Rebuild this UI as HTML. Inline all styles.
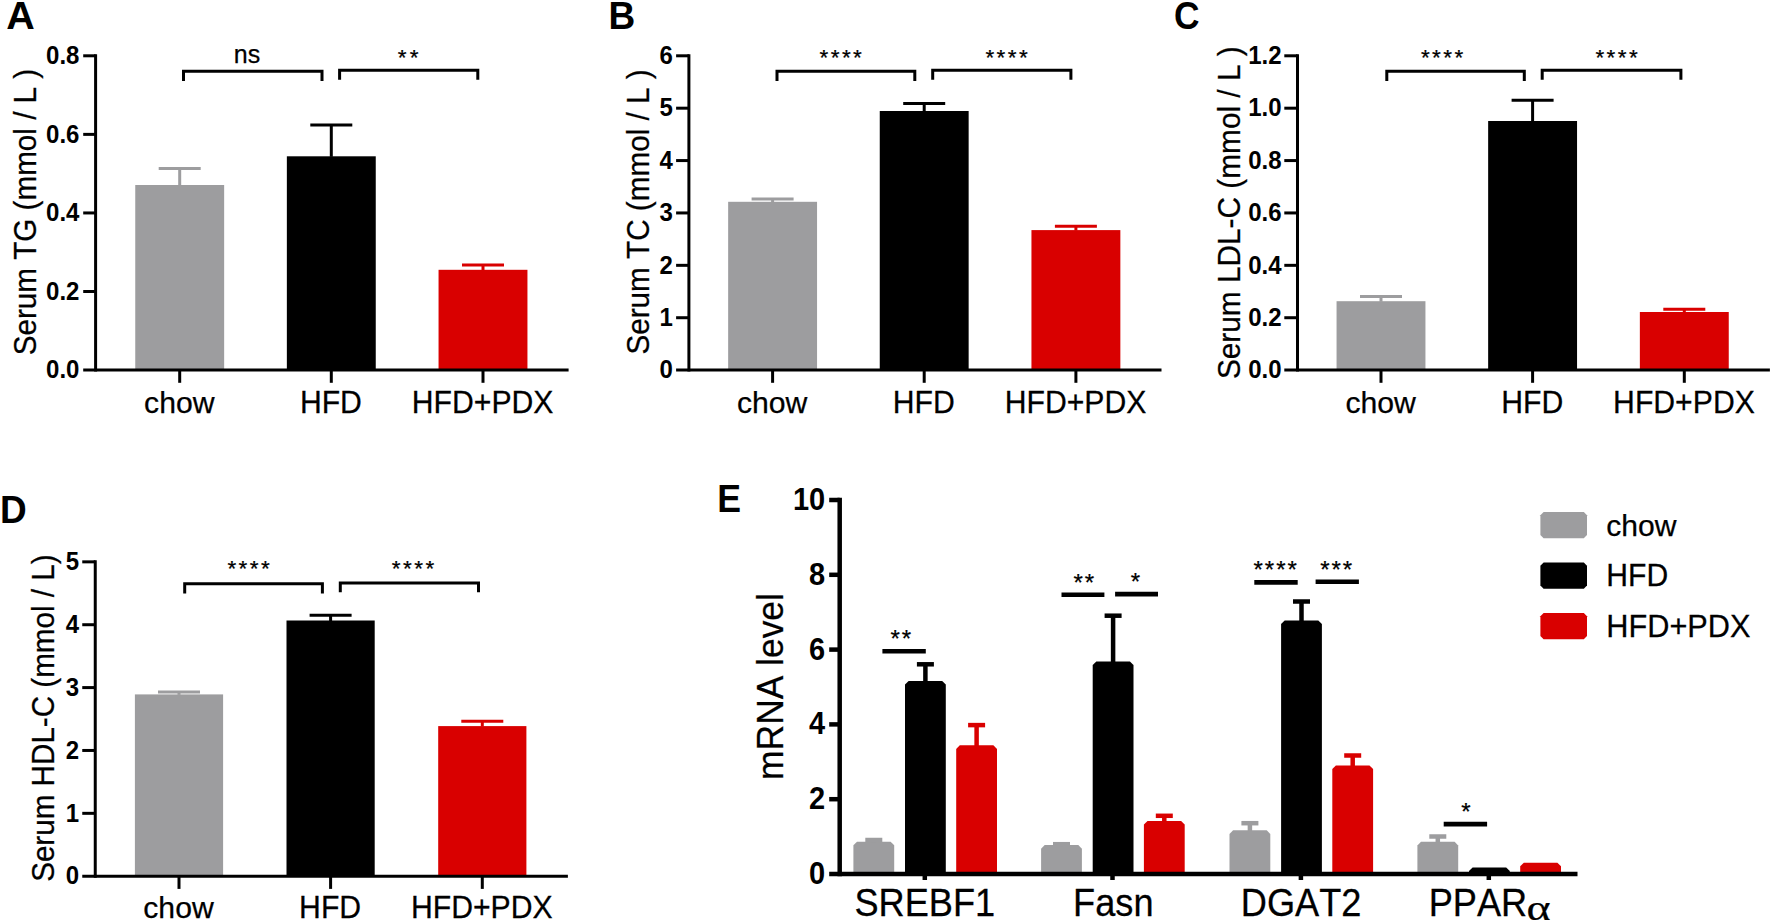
<!DOCTYPE html>
<html lang="en">
<head>
<meta charset="utf-8">
<title>Serum lipids and hepatic mRNA levels</title>
<style>
html,body{margin:0;padding:0;background:#fff;}
body{width:1772px;height:923px;overflow:hidden;}
svg{display:block;}
svg text{font-family:"Liberation Sans", Arial, Helvetica, sans-serif;fill:#000;font-kerning:none;font-variant-ligatures:none;stroke:#000;stroke-width:0.25px;}
svg text[font-weight=bold]{stroke-width:0;}
</style>
</head>
<body>
<svg width="1772" height="923" viewBox="0 0 1772 923">
<rect width="1772" height="923" fill="#ffffff"/>
<g><!-- panel A -->
<text transform="translate(6.3 28.6) scale(1.068 1.045)" font-size="37" font-weight="bold">A</text>
<rect x="135.25" y="185" width="88.9" height="185.1" fill="#9d9d9f"/>
<line x1="179.7" y1="168.5" x2="179.7" y2="185.5" stroke="#9d9d9f" stroke-width="3" stroke-linecap="butt"/>
<line x1="158.7" y1="168.5" x2="200.7" y2="168.5" stroke="#9d9d9f" stroke-width="3" stroke-linecap="butt"/>
<rect x="286.85" y="156.3" width="88.9" height="213.8" fill="#000000"/>
<line x1="331.3" y1="125.1" x2="331.3" y2="156.8" stroke="#000000" stroke-width="3" stroke-linecap="butt"/>
<line x1="310.3" y1="125.1" x2="352.3" y2="125.1" stroke="#000000" stroke-width="3" stroke-linecap="butt"/>
<rect x="438.55" y="269.8" width="88.9" height="100.3" fill="#d90000"/>
<line x1="483" y1="265" x2="483" y2="270.3" stroke="#d90000" stroke-width="3" stroke-linecap="butt"/>
<line x1="462" y1="265" x2="504" y2="265" stroke="#d90000" stroke-width="3" stroke-linecap="butt"/>
<line x1="95.6" y1="54.3" x2="95.6" y2="371.6" stroke="#000000" stroke-width="3" stroke-linecap="butt"/>
<line x1="83.2" y1="370.1" x2="568.6" y2="370.1" stroke="#000000" stroke-width="3" stroke-linecap="butt"/>
<text transform="translate(79.4 378.3) scale(1 1.04)" font-size="24" text-anchor="end" font-weight="bold">0.0</text>
<line x1="83.2" y1="291.525" x2="95.6" y2="291.525" stroke="#000000" stroke-width="3" stroke-linecap="butt"/>
<text transform="translate(79.4 299.725) scale(1 1.04)" font-size="24" text-anchor="end" font-weight="bold">0.2</text>
<line x1="83.2" y1="212.95" x2="95.6" y2="212.95" stroke="#000000" stroke-width="3" stroke-linecap="butt"/>
<text transform="translate(79.4 221.15) scale(1 1.04)" font-size="24" text-anchor="end" font-weight="bold">0.4</text>
<line x1="83.2" y1="134.375" x2="95.6" y2="134.375" stroke="#000000" stroke-width="3" stroke-linecap="butt"/>
<text transform="translate(79.4 142.575) scale(1 1.04)" font-size="24" text-anchor="end" font-weight="bold">0.6</text>
<line x1="83.2" y1="55.8" x2="95.6" y2="55.8" stroke="#000000" stroke-width="3" stroke-linecap="butt"/>
<text transform="translate(79.4 64) scale(1 1.04)" font-size="24" text-anchor="end" font-weight="bold">0.8</text>
<line x1="179.7" y1="370.1" x2="179.7" y2="382.8" stroke="#000000" stroke-width="3" stroke-linecap="butt"/>
<text x="179.3" y="412.7" font-size="30.2" text-anchor="middle">chow</text>
<line x1="331.3" y1="370.1" x2="331.3" y2="382.8" stroke="#000000" stroke-width="3" stroke-linecap="butt"/>
<text transform="translate(330.9 412.7) scale(1 1.025)" font-size="30.2" text-anchor="middle">HFD</text>
<line x1="483" y1="370.1" x2="483" y2="382.8" stroke="#000000" stroke-width="3" stroke-linecap="butt"/>
<text transform="translate(482.6 412.7) scale(1 1.025)" font-size="30.2" text-anchor="middle">HFD+PDX</text>
<text transform="translate(36.2 212.05) rotate(-90) scale(1 1.07)" font-size="29.65" text-anchor="middle">Serum TG (mmol / L )</text>
<path d="M183.5 80.95V71.15H322V80.95" fill="none" stroke="#000" stroke-width="3.0"/>
<path d="M339.6 79.75V70.35H477.8V79.75" fill="none" stroke="#000" stroke-width="3.0"/>
<text x="233.8" y="62.7" font-size="25">ns</text>
<text x="397.8" y="64.65" font-size="22.5" letter-spacing="3.2" stroke="#000" stroke-width="0.3">**</text>
</g>
<g><!-- panel B -->
<text transform="translate(608.6 28.6) scale(1 1.045)" font-size="37" font-weight="bold">B</text>
<rect x="728.15" y="201.8" width="88.9" height="168.3" fill="#9d9d9f"/>
<line x1="772.6" y1="199" x2="772.6" y2="202.3" stroke="#9d9d9f" stroke-width="3" stroke-linecap="butt"/>
<line x1="751.6" y1="199" x2="793.6" y2="199" stroke="#9d9d9f" stroke-width="3" stroke-linecap="butt"/>
<rect x="879.75" y="111" width="88.9" height="259.1" fill="#000000"/>
<line x1="924.2" y1="103.4" x2="924.2" y2="111.5" stroke="#000000" stroke-width="3" stroke-linecap="butt"/>
<line x1="903.2" y1="103.4" x2="945.2" y2="103.4" stroke="#000000" stroke-width="3" stroke-linecap="butt"/>
<rect x="1031.45" y="230.1" width="88.9" height="140" fill="#d90000"/>
<line x1="1075.9" y1="226.2" x2="1075.9" y2="230.6" stroke="#d90000" stroke-width="3" stroke-linecap="butt"/>
<line x1="1054.9" y1="226.2" x2="1096.9" y2="226.2" stroke="#d90000" stroke-width="3" stroke-linecap="butt"/>
<line x1="688.9" y1="54.3" x2="688.9" y2="371.6" stroke="#000000" stroke-width="3" stroke-linecap="butt"/>
<line x1="676.1" y1="370.1" x2="1161.5" y2="370.1" stroke="#000000" stroke-width="3" stroke-linecap="butt"/>
<text transform="translate(672.9 378.3) scale(1 1.04)" font-size="24" text-anchor="end" font-weight="bold">0</text>
<line x1="676.1" y1="317.717" x2="688.9" y2="317.717" stroke="#000000" stroke-width="3" stroke-linecap="butt"/>
<text transform="translate(672.9 325.917) scale(1 1.04)" font-size="24" text-anchor="end" font-weight="bold">1</text>
<line x1="676.1" y1="265.333" x2="688.9" y2="265.333" stroke="#000000" stroke-width="3" stroke-linecap="butt"/>
<text transform="translate(672.9 273.533) scale(1 1.04)" font-size="24" text-anchor="end" font-weight="bold">2</text>
<line x1="676.1" y1="212.95" x2="688.9" y2="212.95" stroke="#000000" stroke-width="3" stroke-linecap="butt"/>
<text transform="translate(672.9 221.15) scale(1 1.04)" font-size="24" text-anchor="end" font-weight="bold">3</text>
<line x1="676.1" y1="160.567" x2="688.9" y2="160.567" stroke="#000000" stroke-width="3" stroke-linecap="butt"/>
<text transform="translate(672.9 168.767) scale(1 1.04)" font-size="24" text-anchor="end" font-weight="bold">4</text>
<line x1="676.1" y1="108.183" x2="688.9" y2="108.183" stroke="#000000" stroke-width="3" stroke-linecap="butt"/>
<text transform="translate(672.9 116.383) scale(1 1.04)" font-size="24" text-anchor="end" font-weight="bold">5</text>
<line x1="676.1" y1="55.8" x2="688.9" y2="55.8" stroke="#000000" stroke-width="3" stroke-linecap="butt"/>
<text transform="translate(672.9 64) scale(1 1.04)" font-size="24" text-anchor="end" font-weight="bold">6</text>
<line x1="772.6" y1="370.1" x2="772.6" y2="382.8" stroke="#000000" stroke-width="3" stroke-linecap="butt"/>
<text x="772.2" y="412.7" font-size="30.2" text-anchor="middle">chow</text>
<line x1="924.2" y1="370.1" x2="924.2" y2="382.8" stroke="#000000" stroke-width="3" stroke-linecap="butt"/>
<text transform="translate(923.8 412.7) scale(1 1.025)" font-size="30.2" text-anchor="middle">HFD</text>
<line x1="1075.9" y1="370.1" x2="1075.9" y2="382.8" stroke="#000000" stroke-width="3" stroke-linecap="butt"/>
<text transform="translate(1075.5 412.7) scale(1 1.025)" font-size="30.2" text-anchor="middle">HFD+PDX</text>
<text transform="translate(648.5 212) rotate(-90) scale(1 1.07)" font-size="29.68" text-anchor="middle">Serum TC (mmol / L )</text>
<path d="M777 80.95V71.15H914.8V80.95" fill="none" stroke="#000" stroke-width="3.0"/>
<path d="M932.7 79.75V70.35H1070.9V79.75" fill="none" stroke="#000" stroke-width="3.0"/>
<text x="819.5" y="64.65" font-size="22.5" letter-spacing="2.45" stroke="#000" stroke-width="0.3">****</text>
<text x="985.4" y="64.65" font-size="22.5" letter-spacing="2.45" stroke="#000" stroke-width="0.3">****</text>
</g>
<g><!-- panel C -->
<text transform="translate(1174.1 29) scale(0.955 1.045)" font-size="37" font-weight="bold">C</text>
<rect x="1336.55" y="301.2" width="88.9" height="68.9" fill="#9d9d9f"/>
<line x1="1381" y1="296.5" x2="1381" y2="301.7" stroke="#9d9d9f" stroke-width="3" stroke-linecap="butt"/>
<line x1="1360" y1="296.5" x2="1402" y2="296.5" stroke="#9d9d9f" stroke-width="3" stroke-linecap="butt"/>
<rect x="1488.15" y="121" width="88.9" height="249.1" fill="#000000"/>
<line x1="1532.6" y1="100.3" x2="1532.6" y2="121.5" stroke="#000000" stroke-width="3" stroke-linecap="butt"/>
<line x1="1511.6" y1="100.3" x2="1553.6" y2="100.3" stroke="#000000" stroke-width="3" stroke-linecap="butt"/>
<rect x="1639.85" y="312" width="88.9" height="58.1" fill="#d90000"/>
<line x1="1684.3" y1="309.2" x2="1684.3" y2="312.5" stroke="#d90000" stroke-width="3" stroke-linecap="butt"/>
<line x1="1663.3" y1="309.2" x2="1705.3" y2="309.2" stroke="#d90000" stroke-width="3" stroke-linecap="butt"/>
<line x1="1297.5" y1="54.3" x2="1297.5" y2="371.6" stroke="#000000" stroke-width="3" stroke-linecap="butt"/>
<line x1="1284.3" y1="370.1" x2="1769.9" y2="370.1" stroke="#000000" stroke-width="3" stroke-linecap="butt"/>
<text transform="translate(1281.55 378.3) scale(1 1.04)" font-size="24" text-anchor="end" font-weight="bold">0.0</text>
<line x1="1284.3" y1="317.717" x2="1297.5" y2="317.717" stroke="#000000" stroke-width="3" stroke-linecap="butt"/>
<text transform="translate(1281.55 325.917) scale(1 1.04)" font-size="24" text-anchor="end" font-weight="bold">0.2</text>
<line x1="1284.3" y1="265.333" x2="1297.5" y2="265.333" stroke="#000000" stroke-width="3" stroke-linecap="butt"/>
<text transform="translate(1281.55 273.533) scale(1 1.04)" font-size="24" text-anchor="end" font-weight="bold">0.4</text>
<line x1="1284.3" y1="212.95" x2="1297.5" y2="212.95" stroke="#000000" stroke-width="3" stroke-linecap="butt"/>
<text transform="translate(1281.55 221.15) scale(1 1.04)" font-size="24" text-anchor="end" font-weight="bold">0.6</text>
<line x1="1284.3" y1="160.567" x2="1297.5" y2="160.567" stroke="#000000" stroke-width="3" stroke-linecap="butt"/>
<text transform="translate(1281.55 168.767) scale(1 1.04)" font-size="24" text-anchor="end" font-weight="bold">0.8</text>
<line x1="1284.3" y1="108.183" x2="1297.5" y2="108.183" stroke="#000000" stroke-width="3" stroke-linecap="butt"/>
<text transform="translate(1281.55 116.383) scale(1 1.04)" font-size="24" text-anchor="end" font-weight="bold">1.0</text>
<line x1="1284.3" y1="55.8" x2="1297.5" y2="55.8" stroke="#000000" stroke-width="3" stroke-linecap="butt"/>
<text transform="translate(1281.55 64) scale(1 1.04)" font-size="24" text-anchor="end" font-weight="bold">1.2</text>
<line x1="1381" y1="370.1" x2="1381" y2="382.8" stroke="#000000" stroke-width="3" stroke-linecap="butt"/>
<text x="1380.65" y="412.7" font-size="30.2" text-anchor="middle">chow</text>
<line x1="1532.6" y1="370.1" x2="1532.6" y2="382.8" stroke="#000000" stroke-width="3" stroke-linecap="butt"/>
<text transform="translate(1532.25 412.7) scale(1 1.025)" font-size="30.2" text-anchor="middle">HFD</text>
<line x1="1684.3" y1="370.1" x2="1684.3" y2="382.8" stroke="#000000" stroke-width="3" stroke-linecap="butt"/>
<text transform="translate(1683.95 412.7) scale(1 1.025)" font-size="30.2" text-anchor="middle">HFD+PDX</text>
<text transform="translate(1240 212.7) rotate(-90) scale(1 1.07)" font-size="29.8" text-anchor="middle">Serum LDL-C (mmol / L )</text>
<path d="M1386.8 80.95V71.15H1524.3V80.95" fill="none" stroke="#000" stroke-width="3.0"/>
<path d="M1542.2 79.75V70.35H1680.9V79.75" fill="none" stroke="#000" stroke-width="3.0"/>
<text x="1420.9" y="64.65" font-size="22.5" letter-spacing="2.45" stroke="#000" stroke-width="0.3">****</text>
<text x="1595.4" y="64.65" font-size="22.5" letter-spacing="2.45" stroke="#000" stroke-width="0.3">****</text>
</g>
<g><!-- panel D -->
<text transform="translate(-0.1 523.4) scale(1 1.045)" font-size="37" font-weight="bold">D</text>
<rect x="134.9" y="694.4" width="88.2" height="181.8" fill="#9d9d9f"/>
<line x1="179" y1="692" x2="179" y2="694.9" stroke="#9d9d9f" stroke-width="3" stroke-linecap="butt"/>
<line x1="158" y1="692" x2="200" y2="692" stroke="#9d9d9f" stroke-width="3" stroke-linecap="butt"/>
<rect x="286.5" y="620.5" width="88.2" height="255.7" fill="#000000"/>
<line x1="330.6" y1="615.3" x2="330.6" y2="621" stroke="#000000" stroke-width="3" stroke-linecap="butt"/>
<line x1="309.6" y1="615.3" x2="351.6" y2="615.3" stroke="#000000" stroke-width="3" stroke-linecap="butt"/>
<rect x="438.2" y="726.1" width="88.2" height="150.1" fill="#d90000"/>
<line x1="482.3" y1="721.3" x2="482.3" y2="726.6" stroke="#d90000" stroke-width="3" stroke-linecap="butt"/>
<line x1="461.3" y1="721.3" x2="503.3" y2="721.3" stroke="#d90000" stroke-width="3" stroke-linecap="butt"/>
<line x1="95.25" y1="560.35" x2="95.25" y2="877.7" stroke="#000000" stroke-width="3" stroke-linecap="butt"/>
<line x1="82.25" y1="876.2" x2="567.9" y2="876.2" stroke="#000000" stroke-width="3" stroke-linecap="butt"/>
<text transform="translate(79 884.4) scale(1 1.04)" font-size="24" text-anchor="end" font-weight="bold">0</text>
<line x1="82.25" y1="813.33" x2="95.25" y2="813.33" stroke="#000000" stroke-width="3" stroke-linecap="butt"/>
<text transform="translate(79 821.53) scale(1 1.04)" font-size="24" text-anchor="end" font-weight="bold">1</text>
<line x1="82.25" y1="750.46" x2="95.25" y2="750.46" stroke="#000000" stroke-width="3" stroke-linecap="butt"/>
<text transform="translate(79 758.66) scale(1 1.04)" font-size="24" text-anchor="end" font-weight="bold">2</text>
<line x1="82.25" y1="687.59" x2="95.25" y2="687.59" stroke="#000000" stroke-width="3" stroke-linecap="butt"/>
<text transform="translate(79 695.79) scale(1 1.04)" font-size="24" text-anchor="end" font-weight="bold">3</text>
<line x1="82.25" y1="624.72" x2="95.25" y2="624.72" stroke="#000000" stroke-width="3" stroke-linecap="butt"/>
<text transform="translate(79 632.92) scale(1 1.04)" font-size="24" text-anchor="end" font-weight="bold">4</text>
<line x1="82.25" y1="561.85" x2="95.25" y2="561.85" stroke="#000000" stroke-width="3" stroke-linecap="butt"/>
<text transform="translate(79 570.05) scale(1 1.04)" font-size="24" text-anchor="end" font-weight="bold">5</text>
<line x1="179" y1="876.2" x2="179" y2="888.9" stroke="#000000" stroke-width="3" stroke-linecap="butt"/>
<text x="178.5" y="918.3" font-size="30.2" text-anchor="middle">chow</text>
<line x1="330.6" y1="876.2" x2="330.6" y2="888.9" stroke="#000000" stroke-width="3" stroke-linecap="butt"/>
<text transform="translate(330.1 918.3) scale(1 1.025)" font-size="30.2" text-anchor="middle">HFD</text>
<line x1="482.3" y1="876.2" x2="482.3" y2="888.9" stroke="#000000" stroke-width="3" stroke-linecap="butt"/>
<text transform="translate(481.8 918.3) scale(1 1.025)" font-size="30.2" text-anchor="middle">HFD+PDX</text>
<text transform="translate(54 718.125) rotate(-90) scale(1 1.07)" font-size="29.63" text-anchor="middle">Serum HDL-C (mmol / L)</text>
<path d="M184.7 593.5V583.7H322.4V593.5" fill="none" stroke="#000" stroke-width="3.0"/>
<path d="M340.3 592.3V582.9H478.5V592.3" fill="none" stroke="#000" stroke-width="3.0"/>
<text x="227.4" y="576" font-size="22.5" letter-spacing="2.45" stroke="#000" stroke-width="0.3">****</text>
<text x="391.8" y="576" font-size="22.5" letter-spacing="2.45" stroke="#000" stroke-width="0.3">****</text>
</g>
<g><!-- panel E -->
<text transform="translate(717.3 511.8) scale(0.965 1.045)" font-size="37" font-weight="bold">E</text>
<path d="M853.4 874V845.3L857 841.7H890.6L894.2 845.3V874Z" fill="#9d9d9f"/>
<line x1="873.8" y1="840" x2="873.8" y2="842.7" stroke="#9d9d9f" stroke-width="4.5" stroke-linecap="butt"/>
<line x1="865.3" y1="840" x2="882.3" y2="840" stroke="#9d9d9f" stroke-width="4.5" stroke-linecap="butt"/>
<path d="M905 874V684.6L908.6 681H942.2L945.8 684.6V874Z" fill="#000000"/>
<line x1="925.4" y1="664.3" x2="925.4" y2="682" stroke="#000000" stroke-width="4.5" stroke-linecap="butt"/>
<line x1="916.9" y1="664.3" x2="933.9" y2="664.3" stroke="#000000" stroke-width="4.5" stroke-linecap="butt"/>
<path d="M956.2 874V748.9L959.8 745.3H993.4L997 748.9V874Z" fill="#d90000"/>
<line x1="976.6" y1="725.1" x2="976.6" y2="746.3" stroke="#d90000" stroke-width="4.5" stroke-linecap="butt"/>
<line x1="968.1" y1="725.1" x2="985.1" y2="725.1" stroke="#d90000" stroke-width="4.5" stroke-linecap="butt"/>
<path d="M1041.1 874V848.7L1044.7 845.1H1078.3L1081.9 848.7V874Z" fill="#9d9d9f"/>
<line x1="1061.5" y1="844.2" x2="1061.5" y2="846.1" stroke="#9d9d9f" stroke-width="4.5" stroke-linecap="butt"/>
<line x1="1053" y1="844.2" x2="1070" y2="844.2" stroke="#9d9d9f" stroke-width="4.5" stroke-linecap="butt"/>
<path d="M1092.7 874V665.1L1096.3 661.5H1129.9L1133.5 665.1V874Z" fill="#000000"/>
<line x1="1113.1" y1="615.7" x2="1113.1" y2="662.5" stroke="#000000" stroke-width="4.5" stroke-linecap="butt"/>
<line x1="1104.6" y1="615.7" x2="1121.6" y2="615.7" stroke="#000000" stroke-width="4.5" stroke-linecap="butt"/>
<path d="M1143.9 874V824.6L1147.5 821H1181.1L1184.7 824.6V874Z" fill="#d90000"/>
<line x1="1164.3" y1="815.8" x2="1164.3" y2="822" stroke="#d90000" stroke-width="4.5" stroke-linecap="butt"/>
<line x1="1155.8" y1="815.8" x2="1172.8" y2="815.8" stroke="#d90000" stroke-width="4.5" stroke-linecap="butt"/>
<path d="M1229.5 874V833.9L1233.1 830.3H1266.7L1270.3 833.9V874Z" fill="#9d9d9f"/>
<line x1="1249.9" y1="823.2" x2="1249.9" y2="831.3" stroke="#9d9d9f" stroke-width="4.5" stroke-linecap="butt"/>
<line x1="1241.4" y1="823.2" x2="1258.4" y2="823.2" stroke="#9d9d9f" stroke-width="4.5" stroke-linecap="butt"/>
<path d="M1281.1 874V624L1284.7 620.4H1318.3L1321.9 624V874Z" fill="#000000"/>
<line x1="1301.5" y1="601.5" x2="1301.5" y2="621.4" stroke="#000000" stroke-width="4.5" stroke-linecap="butt"/>
<line x1="1293" y1="601.5" x2="1310" y2="601.5" stroke="#000000" stroke-width="4.5" stroke-linecap="butt"/>
<path d="M1332.3 874V769.1L1335.9 765.5H1369.5L1373.1 769.1V874Z" fill="#d90000"/>
<line x1="1352.7" y1="755.5" x2="1352.7" y2="766.5" stroke="#d90000" stroke-width="4.5" stroke-linecap="butt"/>
<line x1="1344.2" y1="755.5" x2="1361.2" y2="755.5" stroke="#d90000" stroke-width="4.5" stroke-linecap="butt"/>
<path d="M1417.4 874V845.4L1421 841.8H1454.6L1458.2 845.4V874Z" fill="#9d9d9f"/>
<line x1="1437.8" y1="836.5" x2="1437.8" y2="842.8" stroke="#9d9d9f" stroke-width="4.5" stroke-linecap="butt"/>
<line x1="1429.3" y1="836.5" x2="1446.3" y2="836.5" stroke="#9d9d9f" stroke-width="4.5" stroke-linecap="butt"/>
<path d="M1469 874V871.1L1472.6 867.5H1506.2L1509.8 871.1V874Z" fill="#000000"/>
<path d="M1520.2 874V866.3L1523.8 862.7H1557.4L1561 866.3V874Z" fill="#d90000"/>
<line x1="839.7" y1="497.75" x2="839.7" y2="876.25" stroke="#000000" stroke-width="4.5" stroke-linecap="butt"/>
<line x1="829.2" y1="874" x2="1577.5" y2="874" stroke="#000000" stroke-width="4.5" stroke-linecap="butt"/>
<text transform="translate(825.2 883.9) scale(1 1.06)" font-size="29" text-anchor="end" font-weight="bold">0</text>
<line x1="829.2" y1="799.2" x2="839.7" y2="799.2" stroke="#000000" stroke-width="4.5" stroke-linecap="butt"/>
<text transform="translate(825.2 809.1) scale(1 1.06)" font-size="29" text-anchor="end" font-weight="bold">2</text>
<line x1="829.2" y1="724.4" x2="839.7" y2="724.4" stroke="#000000" stroke-width="4.5" stroke-linecap="butt"/>
<text transform="translate(825.2 734.3) scale(1 1.06)" font-size="29" text-anchor="end" font-weight="bold">4</text>
<line x1="829.2" y1="649.6" x2="839.7" y2="649.6" stroke="#000000" stroke-width="4.5" stroke-linecap="butt"/>
<text transform="translate(825.2 659.5) scale(1 1.06)" font-size="29" text-anchor="end" font-weight="bold">6</text>
<line x1="829.2" y1="574.8" x2="839.7" y2="574.8" stroke="#000000" stroke-width="4.5" stroke-linecap="butt"/>
<text transform="translate(825.2 584.7) scale(1 1.06)" font-size="29" text-anchor="end" font-weight="bold">8</text>
<line x1="829.2" y1="500" x2="839.7" y2="500" stroke="#000000" stroke-width="4.5" stroke-linecap="butt"/>
<text transform="translate(825.2 509.9) scale(1 1.06)" font-size="29" text-anchor="end" font-weight="bold">10</text>
<line x1="924.8" y1="874" x2="924.8" y2="880" stroke="#000000" stroke-width="4.5" stroke-linecap="butt"/>
<text transform="translate(924.8 916.4) scale(1 1.055)" font-size="36.2" text-anchor="middle">SREBF1</text>
<line x1="1112.5" y1="874" x2="1112.5" y2="880" stroke="#000000" stroke-width="4.5" stroke-linecap="butt"/>
<text transform="translate(1113.3 916.4) scale(1 1.055)" font-size="36.2" text-anchor="middle">Fasn</text>
<line x1="1300.9" y1="874" x2="1300.9" y2="880" stroke="#000000" stroke-width="4.5" stroke-linecap="butt"/>
<text transform="translate(1301.1 916.4) scale(1 1.055)" font-size="36.2" text-anchor="middle">DGAT2</text>
<line x1="1488.8" y1="874" x2="1488.8" y2="880" stroke="#000000" stroke-width="4.5" stroke-linecap="butt"/>
<text transform="translate(1428.7 916.4) scale(1 1.055)" font-size="36.2">PPAR</text>
<text transform="translate(1526.6 920.3) scale(1.15 0.92)" font-size="40" style="font-family:'Liberation Serif','DejaVu Serif',serif">&#945;</text>
<text transform="translate(782.9 686.5) rotate(-90) scale(1 1.03)" font-size="35.4" text-anchor="middle">mRNA level</text>
<line x1="882.4" y1="651.2" x2="925.8" y2="651.2" stroke="#000000" stroke-width="4.6" stroke-linecap="butt"/>
<text x="890.4" y="647.2" font-size="24" letter-spacing="2.0" stroke="#000" stroke-width="0.3">**</text>
<line x1="1061.5" y1="594.8" x2="1104.4" y2="594.8" stroke="#000000" stroke-width="4.6" stroke-linecap="butt"/>
<text x="1073.5" y="590.8" font-size="24" letter-spacing="2.0" stroke="#000" stroke-width="0.3">**</text>
<line x1="1115.1" y1="594.1" x2="1158" y2="594.1" stroke="#000000" stroke-width="4.6" stroke-linecap="butt"/>
<text x="1130.7" y="590.1" font-size="24" letter-spacing="2.0" stroke="#000" stroke-width="0.3">*</text>
<line x1="1254.3" y1="582.4" x2="1297.7" y2="582.4" stroke="#000000" stroke-width="4.6" stroke-linecap="butt"/>
<text x="1253.5" y="578.4" font-size="24" letter-spacing="2.0" stroke="#000" stroke-width="0.3">****</text>
<line x1="1315.6" y1="581.7" x2="1358.9" y2="581.7" stroke="#000000" stroke-width="4.6" stroke-linecap="butt"/>
<text x="1320.2" y="577.7" font-size="24" letter-spacing="2.0" stroke="#000" stroke-width="0.3">***</text>
<line x1="1443.7" y1="824.1" x2="1487.1" y2="824.1" stroke="#000000" stroke-width="4.6" stroke-linecap="butt"/>
<text x="1461.3" y="820.1" font-size="24" letter-spacing="2.0" stroke="#000" stroke-width="0.3">*</text>
<path d="M1543.6 512H1583.8L1587 515.2V535.1L1583.8 538.3H1543.6L1540.4 535.1V515.2Z" fill="#9d9d9f"/>
<text x="1606.3" y="535.7" font-size="30.1">chow</text>
<path d="M1543.6 562.5H1583.8L1587 565.7V585.6L1583.8 588.8H1543.6L1540.4 585.6V565.7Z" fill="#000000"/>
<text transform="translate(1606.3 586.2) scale(1 1.04)" font-size="30.1">HFD</text>
<path d="M1543.6 613H1583.8L1587 616.2V636.1L1583.8 639.3H1543.6L1540.4 636.1V616.2Z" fill="#d90000"/>
<text transform="translate(1606.3 636.7) scale(1 1.04)" font-size="30.7">HFD+PDX</text>
</g>
</svg>
</body>
</html>
